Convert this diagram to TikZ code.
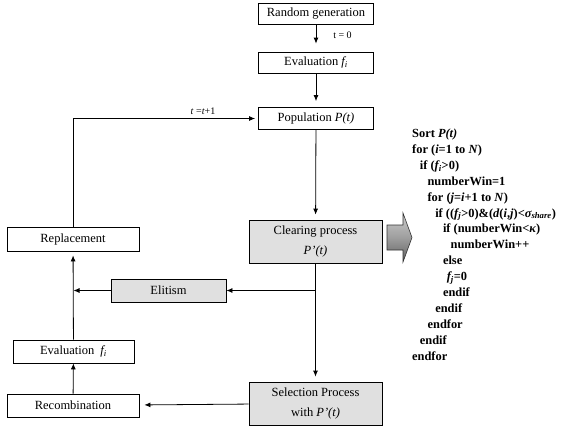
\documentclass[tikz,border=0pt]{standalone}
\usepackage{fontspec}
\setmainfont{Liberation Serif}
\usepackage{tikz}
\usetikzlibrary{arrows,arrows.meta,positioning,calc}

\tikzset{
  box/.style={draw,line width=0.8pt,minimum width=115pt,minimum height=21pt,inner sep=0pt,
    font=\fontsize{12.5}{20}\selectfont,align=center},
  graybox/.style={box,fill=black!12,minimum width=133pt,minimum height=43pt},
  flow/.style={-{Latex[length=6pt,width=5pt]},line width=0.8pt},
  codeline/.style={anchor=base west,inner sep=0pt,font=\bfseries\fontsize{12.4}{15}\selectfont},
  small/.style={inner sep=0pt,font=\fontsize{10}{12}\selectfont}
}

\begin{document}
\begin{tikzpicture}[x=1pt,y=-1pt]
        \useasboundingbox (0,0) rectangle (563,432);

        % Main column
        \node[box] (randGen) at (316,14) {Random generation};
        \node[box] (evalTop) at (316,62.5) {Evaluation \textit{f\textsubscript{i}}};
        \node[box,minimum height=22pt] (population) at (316,118.5) {Population \textit{P(t)}};
        \node[graybox] (clearing) at (315.5,241.5) {Clearing process\\\textit{P’(t)}};
        \node[graybox] (selection) at (315.5,403.5) {Selection Process\\with \textit{P’(t)}};

        % Left column
        \node[box,minimum width=132pt,minimum height=24pt] (replacement) at (73,239) {Replacement};
        \node[box,fill=black!12,minimum height=23pt] (elitism) at (168.5,290.5) {Elitism};
        \node[box,minimum width=121pt,minimum height=23pt] (evalLow) at (73.5,351.5) {Evaluation\enspace\textit{f\textsubscript{i}}};
        \node[box,minimum width=132pt,minimum height=23pt] (recomb) at (73,405.5) {Recombination};

        % Labels
        \node[small] (tZero) at (342.5,35) {t = 0};
        \node[small] (tNext) at (203,111) {\textit{t} =\textit{t}+1};

        % Helper points
        \coordinate (split) at (clearing.south |- elitism.east);
        \coordinate (join) at (evalLow.north |- elitism.west);

        % Arcs
        \draw[flow,shorten >=8pt] (randGen) -- (evalTop);
        \draw[flow,shorten >=6pt] (evalTop) -- (population);
        \draw[flow,shorten >=5pt] (population) -- (clearing);
        \draw[flow,shorten >=5pt] (clearing) -- (selection);
        \draw[flow,shorten >=3pt] (replacement.north) |- (population);
        \draw[flow] (split) -- (elitism);
        \draw[flow] (elitism) -- (join);
        \draw[flow,shorten >=4pt] (evalLow) -- (replacement);
        \draw[flow] (recomb) -- (evalLow);
        \draw[flow,shorten >=5pt] (selection) -- (recomb);

        % Big arrow to the pseudo code
        \path[draw=black!80,line width=0.6pt,shading=axis,top color=black!20,bottom color=black!62,middle color=black!38]
          (387,225) -- (403,225) -- (403,213) -- (412,237.5) -- (403,262) -- (403,250) -- (387,250) -- cycle;

        % Pseudo code
        \foreach \ind/\txt [count=\k] in {
            0/{Sort \textit{P(t)}},
            0/{for (\textit{i}=1 to \textit{N})},
            1/{if (\textit{f\textsubscript{i}}>0)},
            2/{numberWin=1},
            2/{for (\textit{j}=\textit{i}+1 to \textit{N})},
            3/{if ((\textit{f\textsubscript{j}}>0)\&(\textit{d}(\textit{i},\textit{j})<\textit{σ\textsubscript{share}})},
            4/{if (numberWin<\textit{κ})},
            5/{numberWin++},
            4/{else},
            4.5/{\textit{f\textsubscript{j}}=0},
            4/{endif},
            3/{endif},
            2/{endfor},
            1/{endif},
            0/{endfor}}
          \node[codeline] (code\k) at ({412+\ind*7.7},{137.5+(\k-1)*15.9}) {\txt};
    \end{tikzpicture}
\end{document}
